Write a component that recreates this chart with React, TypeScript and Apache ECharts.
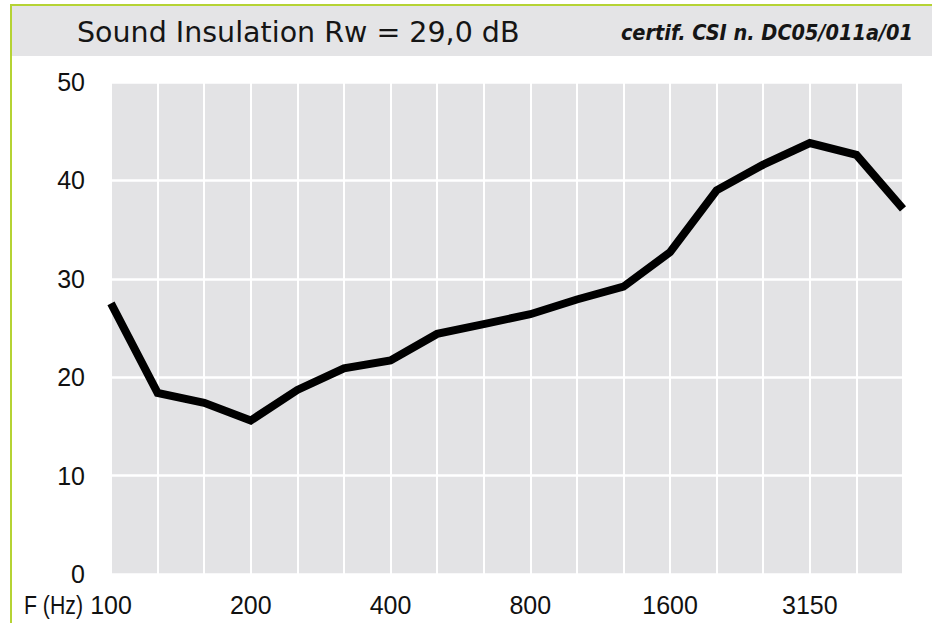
import React, { useEffect, useRef } from "react";
import * as echarts from "echarts";

const frequencies = ["100", "125", "160", "200", "250", "315", "400", "500", "630", "800", "1000", "1250", "1600", "2000", "2500", "3150", "4000", "5000"];
const insulation = [27.5, 18.4, 17.4, 15.6, 18.7, 20.9, 21.7, 24.4, 25.4, 26.4, 27.9, 29.2, 32.7, 39.0, 41.6, 43.8, 42.6, 37.1];
const titleText = "Sound Insulation Rw = 29,0 dB";
const certText = "certif. CSI n. DC05/011a/01";
const axisName = "F (Hz)";

const labelFont = "'Liberation Sans', Arial, sans-serif";

export default function App() {
  const ref = useRef<HTMLDivElement>(null);
  useEffect(() => {
    if (!ref.current) return;
    const chart = echarts.init(ref.current, undefined, { renderer: "svg" });
    chart.setOption({
      animation: false,
      backgroundColor: "#ffffff",
      grid: {
        left: 111,
        right: 29,
        top: 82,
        bottom: 49,
        show: true,
        backgroundColor: "#e3e3e5",
        borderWidth: 0,
      },
      xAxis: {
        type: "category",
        data: frequencies,
        boundaryGap: false,
        axisLine: { show: false },
        axisTick: { show: false },
        axisLabel: {
          interval: 2,
          fontFamily: labelFont,
          fontSize: 25,
          color: "#111111",
          margin: 18,
        },
        splitLine: { show: true, interval: 0, lineStyle: { color: "#ffffff", width: 2 } },
      },
      yAxis: {
        type: "value",
        min: 0,
        max: 50,
        interval: 10,
        axisLine: { show: false },
        axisTick: { show: false },
        axisLabel: {
          fontFamily: labelFont,
          fontSize: 25,
          color: "#111111",
          margin: 26,
        },
        splitLine: { show: true, lineStyle: { color: "#ffffff", width: 2.5 } },
      },
      series: [
        {
          type: "line",
          data: insulation,
          symbol: "none",
          clip: true,
          lineStyle: { color: "#000000", width: 8, join: "miter" },
          itemStyle: { color: "#000000" },
        },
      ],
      graphic: [
        {
          type: "rect",
          shape: { x: 12, y: 6, width: 930, height: 50 },
          style: { fill: "#e4e4e6" },
          silent: true,
        },
        {
          type: "rect",
          shape: { x: 11, y: 5, width: 1000, height: 1000 },
          style: { fill: "none", stroke: "#b5d334", lineWidth: 2 },
          silent: true,
        },
        {
          type: "text",
          x: 77,
          y: 32,
          style: {
            text: titleText,
            font: "28.5px 'DejaVu Sans', sans-serif",
            fill: "#151515",
            verticalAlign: "middle",
            align: "left",
          },
        },
        {
          type: "text",
          x: 913,
          y: 32,
          style: {
            text: certText,
            font: "italic bold 21.5px 'DejaVu Sans Condensed', sans-serif",
            fill: "#151515",
            verticalAlign: "middle",
            align: "right",
          },
        },
        {
          type: "text",
          x: 24,
          y: 605,
          scaleX: 0.85,
          style: {
            text: axisName,
            font: "25px " + labelFont,
            fill: "#111111",
            verticalAlign: "middle",
            align: "left",
          },
        },
      ],
    });
    return () => chart.dispose();
  }, []);
  return <div ref={ref} style={{ position: "fixed", left: 0, top: 0, width: 932, height: 623 }} />;
}
